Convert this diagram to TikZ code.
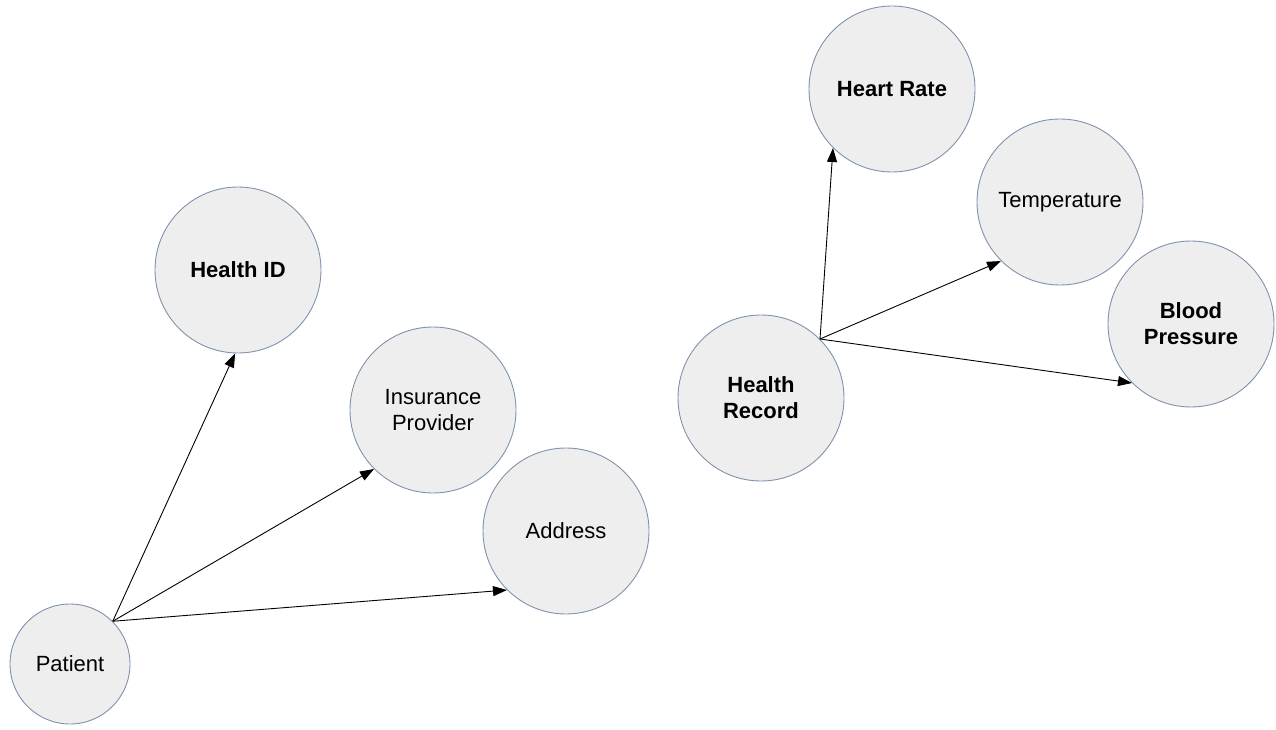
\documentclass[tikz,border=0pt]{standalone}
\usepackage{fontspec}
\setmainfont{Liberation Sans}
\usetikzlibrary{arrows.meta}
\definecolor{nodefill}{HTML}{EEEEEE}
\definecolor{nodeline}{HTML}{7F93AD}
\tikzset{
  attr/.style={circle, draw=nodeline, fill=nodefill, line width=0.9pt,
    minimum size=166pt, inner sep=0pt, align=center,
    font=\fontsize{22}{26}\selectfont},
  small/.style={minimum size=120pt},
  bf/.style={font=\fontsize{22}{26}\selectfont\bfseries},
  link/.style={draw=black, line width=0.9pt, -{Triangle[length=14pt,width=10pt]}}
}
\begin{document}
\begin{tikzpicture}[x=1pt,y=-1pt]
\useasboundingbox (0,0) rectangle (1276,730);
\node[attr,small] (patient) at (70,664) {Patient};
\node[attr,bf] (healthid) at (238,270) {Health ID};
\node[attr] (insurance) at (433,410) {Insurance\\Provider};
\node[attr] (address) at (566,531) {Address};
\node[attr,bf] (record) at (761,398) {Health\\Record};
\node[attr,bf] (heart) at (892,89) {Heart Rate};
\node[attr] (temp) at (1060,202) {Temperature};
\node[attr,bf] (blood) at (1191,324) {Blood\\Pressure};
\draw[link] (patient.45) -- (healthid.268);
\draw[link] (patient.45) -- (insurance.225);
\draw[link] (patient.45) -- (address.225);
\draw[link] (record.45) -- (heart.225);
\draw[link] (record.45) -- (temp.225);
\draw[link] (record.45) -- (blood.225);
\end{tikzpicture}
\end{document}
